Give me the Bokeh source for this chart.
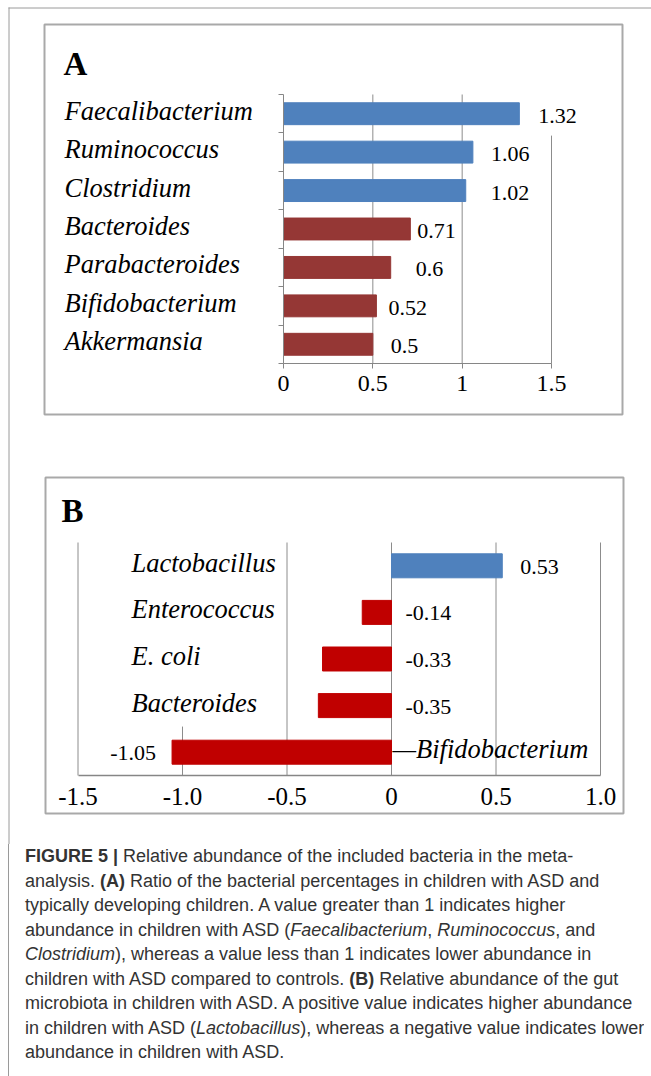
from bokeh.plotting import figure
from bokeh.models import Range1d, LinearAxis, FixedTicker, ColumnDataSource, Div
from bokeh.layouts import column
from bokeh.core.properties import value
from bokeh.embed import file_html
from bokeh.resources import INLINE

# ---------------- data ----------------
a_taxa = ["Faecalibacterium", "Ruminococcus", "Clostridium", "Bacteroides",
          "Parabacteroides", "Bifidobacterium", "Akkermansia"]
a_values = [1.32, 1.06, 1.02, 0.71, 0.60, 0.52, 0.50]
a_value_labels = ["1.32", "1.06", "1.02", "0.71", "0.6", "0.52", "0.5"]
a_ticks = [0, 0.5, 1, 1.5]
a_tick_labels = ["0", "0.5", "1", "1.5"]

b_taxa = ["Lactobacillus", "Enterococcus", "E. coli", "Bacteroides", "Bifidobacterium"]
b_values = [0.53, -0.14, -0.33, -0.35, -1.05]
b_value_labels = ["0.53", "-0.14", "-0.33", "-0.35", "-1.05"]
b_ticks = [-1.5, -1.0, -0.5, 0, 0.5, 1.0]
b_tick_labels = ["-1.5", "-1.0", "-0.5", "0", "0.5", "1.0"]

# ---------------- styles ----------------
BLUE = "#4F81BD"
RED_A = "#953735"
RED_B = "#C00000"
GRID = "#8c8c8c"
AXIS = "#868686"
BOX = "#a9a9a9"
FRAME = "#9a9a9a"
SERIF = "Liberation Serif"

W, H = 651, 844
# pixel layout of the two panels (page coords, y downwards)
A_ZERO_X, A_UNIT, A_AXIS_Y, A_BAND = 283, 178.67, 363, 38.43
B_ZERO_X, B_UNIT, B_AXIS_Y, B_BAND = 391, 209.0, 775, 46.6

a_label_dx = [19, 18, 25, 7, 25, 12, 18]
a_grid_top = [7, 7, 5.93]
b_grid_top = [5, 1.05, 5, 5, 5, 5]
b_cat_dx = [-260, -260, -260, -260, 1]
b_cat_prefix = ["", "", "", "", "\u2014"]
b_val_at_end = [True, False, False, False, True]
b_val_dx = [18, 14, 14, 14, -16]
b_val_align = ["left", "left", "left", "left", "right"]

p = figure(width=W, height=H, x_range=Range1d(0, W), y_range=Range1d(H, 0),
           x_axis_type=None, y_axis_type=None, output_backend="svg",
           toolbar_location=None, min_border=0, outline_line_color=None,
           background_fill_color="white", border_fill_color="white")

p.extra_x_ranges = {
    "ax": Range1d(-A_ZERO_X / A_UNIT, (W - A_ZERO_X) / A_UNIT),
    "bx": Range1d(-B_ZERO_X / B_UNIT, (W - B_ZERO_X) / B_UNIT),
}
p.extra_y_ranges = {
    "ay": Range1d((A_AXIS_Y - H) / A_BAND, A_AXIS_Y / A_BAND),
    "by": Range1d((B_AXIS_Y - H) / B_BAND, B_AXIS_Y / B_BAND),
}

# outer frame + panel boxes (decoration)
p.segment(x0=[8.5, 8], y0=[7, 7.5], x1=[8.5, W], y1=[H, 7.5], line_color=FRAME, line_width=1)
p.quad(left=[44, 45], right=[622, 623], top=[24, 477], bottom=[414, 813],
       fill_color=None, line_color=BOX, line_width=2)
p.text(x=[63, 61], y=[63, 510], text=["A", "B"], text_font=value(SERIF),
       text_font_style="bold", text_font_size="33px", text_baseline="alphabetic",
       text_align="left", text_color="black")

# ---------------- panel A ----------------
nA = len(a_taxa)
a_y = [nA - i - 0.5 for i in range(nA)]
a_colors = [BLUE if v > 1 else RED_A for v in a_values]
srcA = ColumnDataSource(dict(y=a_y, v=a_values, lab=a_value_labels, taxa=a_taxa,
                             c=a_colors, dx=a_label_dx))

p.segment(x0=a_ticks[1:], y0=[0] * 3, x1=a_ticks[1:], y1=a_grid_top,
          x_range_name="ax", y_range_name="ay", line_color=GRID, line_width=1)

p.hbar(y="y", left=0, right="v", height=0.57, fill_color="c", line_color="c",
       source=srcA, x_range_name="ax", y_range_name="ay")

axA = LinearAxis(x_range_name="ax", y_range_name="ay", fixed_location=0,
                 bounds=(0, 1.5), ticker=FixedTicker(ticks=a_ticks, minor_ticks=[]),
                 major_label_overrides=dict(zip(a_ticks, a_tick_labels)))
axA.axis_line_color = AXIS
axA.major_tick_line_color = AXIS
axA.major_tick_out = 5
axA.major_tick_in = 0
axA.minor_tick_out = 0
axA.major_label_text_font = SERIF
axA.major_label_text_font_size = "24px"
axA.major_label_text_color = "black"
axA.major_label_standoff = 7
p.add_layout(axA, "below")

ayA = LinearAxis(x_range_name="ax", y_range_name="ay", fixed_location=0,
                 bounds=(0, nA), ticker=FixedTicker(ticks=list(range(nA + 1)), minor_ticks=[]))
ayA.axis_line_color = AXIS
ayA.major_tick_line_color = AXIS
ayA.major_tick_out = 5
ayA.major_tick_in = 0
ayA.minor_tick_out = 0
ayA.major_label_text_color = None
p.add_layout(ayA, "left")

p.text(x=0, y="y", text="taxa", source=srcA, x_offset=-219, y_offset=-3,
       text_align="left", text_baseline="middle", text_font=value(SERIF),
       text_font_style="italic", text_font_size="26.5px", text_color="black",
       x_range_name="ax", y_range_name="ay")
p.text(x="v", y="y", text="lab", source=srcA, x_offset="dx", y_offset=2,
       text_align="left", text_baseline="middle", text_font=value(SERIF),
       text_font_size="22px", text_color="black",
       x_range_name="ax", y_range_name="ay")

# ---------------- panel B ----------------
nB = len(b_taxa)
b_y = [nB - i - 0.5 for i in range(nB)]
b_colors = [BLUE if v > 0 else RED_B for v in b_values]
b_val_x = [v if e else 0 for v, e in zip(b_values, b_val_at_end)]
b_cat_text = [pre + t for pre, t in zip(b_cat_prefix, b_taxa)]
srcB = ColumnDataSource(dict(y=b_y, v=b_values, c=b_colors, lab=b_value_labels,
                             vx=b_val_x, vdx=b_val_dx, va=b_val_align,
                             cat=b_cat_text, cdx=b_cat_dx))

p.segment(x0=b_ticks, y0=[0] * len(b_ticks), x1=b_ticks, y1=b_grid_top,
          x_range_name="bx", y_range_name="by", line_color=GRID, line_width=1)

p.hbar(y="y", left=0, right="v", height=0.515, fill_color="c", line_color="c",
       source=srcB, x_range_name="bx", y_range_name="by")

axB = LinearAxis(x_range_name="bx", y_range_name="by", fixed_location=0,
                 bounds=(-1.5, 1.0), ticker=FixedTicker(ticks=b_ticks, minor_ticks=[]),
                 major_label_overrides=dict(zip(b_ticks, b_tick_labels)))
axB.axis_line_color = AXIS
axB.axis_line_width = 1.5
axB.major_tick_out = 0
axB.major_tick_in = 0
axB.minor_tick_out = 0
axB.major_label_text_font = SERIF
axB.major_label_text_font_size = "25px"
axB.major_label_text_color = "black"
axB.major_label_standoff = 12
p.add_layout(axB, "below")

p.text(x=0, y="y", text="cat", source=srcB, x_offset="cdx", y_offset=-3,
       text_align="left", text_baseline="middle", text_font=value(SERIF),
       text_font_style="italic", text_font_size="26.5px", text_color="black",
       x_range_name="bx", y_range_name="by")
p.text(x="vx", y="y", text="lab", source=srcB, x_offset="vdx", y_offset=1,
       text_align="va", text_baseline="middle", text_font=value(SERIF),
       text_font_size="22px", text_color="black",
       x_range_name="bx", y_range_name="by")

# ---------------- caption ----------------
caption_lines = [
    "<b>FIGURE 5 |</b> Relative abundance of the included bacteria in the meta-",
    "analysis. <b>(A)</b> Ratio of the bacterial percentages in children with ASD and",
    "typically developing children. A value greater than 1 indicates higher",
    "abundance in children with ASD (<i>Faecalibacterium</i>, <i>Ruminococcus</i>, and",
    "<i>Clostridium</i>), whereas a value less than 1 indicates lower abundance in",
    "children with ASD compared to controls. <b>(B)</b> Relative abundance of the gut",
    "microbiota in children with ASD. A positive value indicates higher abundance",
    "in children with ASD (<i>Lactobacillus</i>), whereas a negative value indicates lower",
    "abundance in children with ASD.",
]
caption_html = ('<div style="margin-left:8px;border-left:1px solid ' + FRAME + ';padding-left:16px;'
                'height:232px;box-sizing:border-box;overflow:hidden;'
                'font-family:\'Liberation Sans\',Arial,sans-serif;'
                'font-size:18px;line-height:24.5px;color:#333333;white-space:nowrap;">'
                + "<br>".join(caption_lines) + "</div>")
cap = Div(text=caption_html, width=W, height=232, margin=0)

layout = column(p, cap, spacing=0)
open("out.html", "w").write(file_html(layout, INLINE))
